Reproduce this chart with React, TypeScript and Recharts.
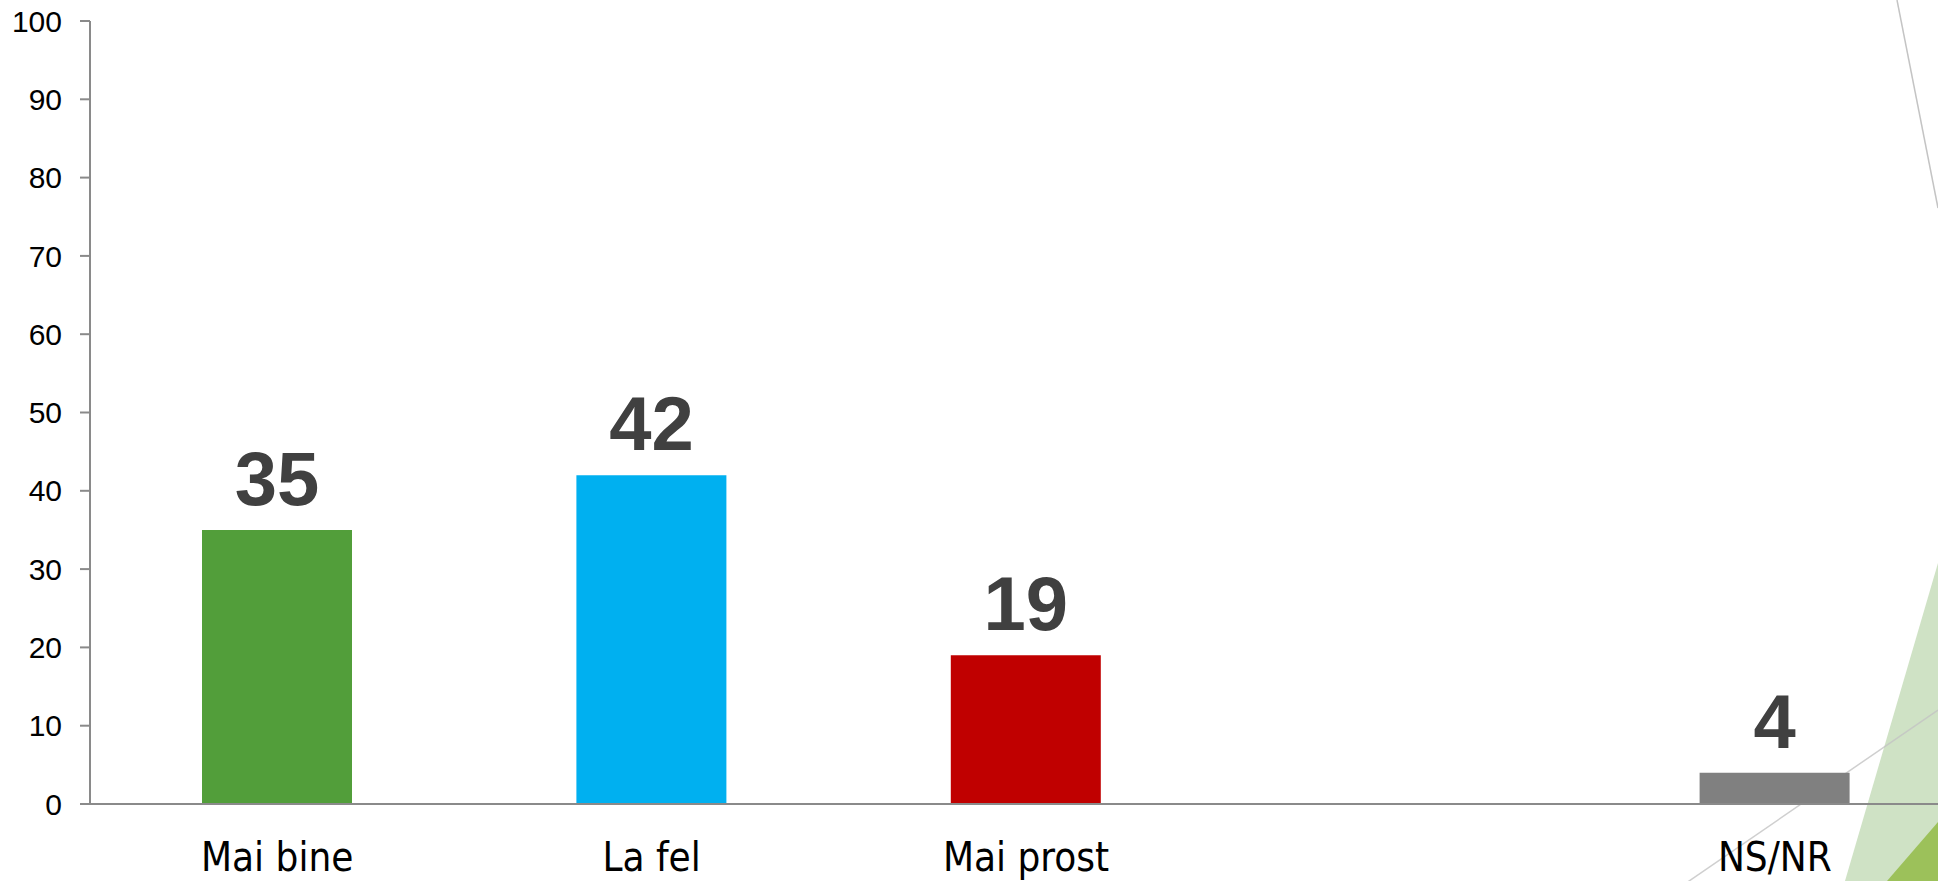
import { BarChart, Bar, XAxis, YAxis, Cell, LabelList } from 'recharts';

const categories = ['Mai bine', 'La fel', 'Mai prost', '', 'NS/NR'];
const values = [35, 42, 19, null, 4];
const yTicks = [0, 10, 20, 30, 40, 50, 60, 70, 80, 90, 100];

const barColors = ['#529E3A', '#00B0F0', '#C00000', '#FFFFFF', '#808080'];

const data = categories.map((name, i) => ({ name, value: values[i] }));

const AXIS = '#8A8A8A';

export default function App() {
  return (
    <div
      style={{
        position: 'absolute',
        left: 0,
        top: 0,
        width: 1938,
        height: 881,
        overflow: 'hidden',
        background: '#FFFFFF',
      }}
    >
      {/* slide decoration behind the chart */}
      <svg width={1938} height={881} style={{ position: 'absolute', left: 0, top: 0 }}>
        <polygon points="1938,563 1845,881 1938,881" fill="#CFE2C5" />
        <polygon points="1938,822 1887,881 1938,881" fill="#9CC15A" />
        <line x1={1897} y1={0} x2={1938} y2={208} stroke="#C4C4C4" strokeWidth={1.5} />
        <line x1={1676} y1={890} x2={1938} y2={710} stroke="#C4C4C4" strokeWidth={1.5} opacity={0.8} />
      </svg>

      <div style={{ position: 'absolute', left: 0, top: 0 }}>
        <BarChart
          width={1962}
          height={890}
          data={data}
          margin={{ top: 21, right: 0, bottom: 0, left: 0 }}
          barSize={150}
        >
          <XAxis
            dataKey="name"
            height={86}
            axisLine={{ stroke: AXIS, strokeWidth: 2 }}
            tickLine={false}
            tickSize={0}
            tickMargin={39}
            interval={0}
            tick={{
              fill: '#000000',
              fontSize: 40,
              fontFamily: "'DejaVu Sans Condensed', 'DejaVu Sans', sans-serif",
            }}
          />
          <YAxis
            width={90}
            domain={[0, 100]}
            ticks={yTicks}
            interval={0}
            axisLine={{ stroke: AXIS, strokeWidth: 2 }}
            tickLine={{ stroke: AXIS, strokeWidth: 2 }}
            tickSize={10}
            tickMargin={18}
            tick={{
              fill: '#000000',
              fontSize: 30,
              fontFamily: "'Liberation Sans', Arial, sans-serif",
            }}
          />
          <Bar dataKey="value" isAnimationActive={false}>
            {data.map((d, i) => (
              <Cell key={d.name + i} fill={barColors[i]} />
            ))}
            <LabelList
              dataKey="value"
              position="top"
              offset={25}
              fill="#404040"
              fontSize={76}
              fontWeight="bold"
              fontFamily="'Liberation Sans', Arial, sans-serif"
            />
          </Bar>
        </BarChart>
      </div>
    </div>
  );
}
